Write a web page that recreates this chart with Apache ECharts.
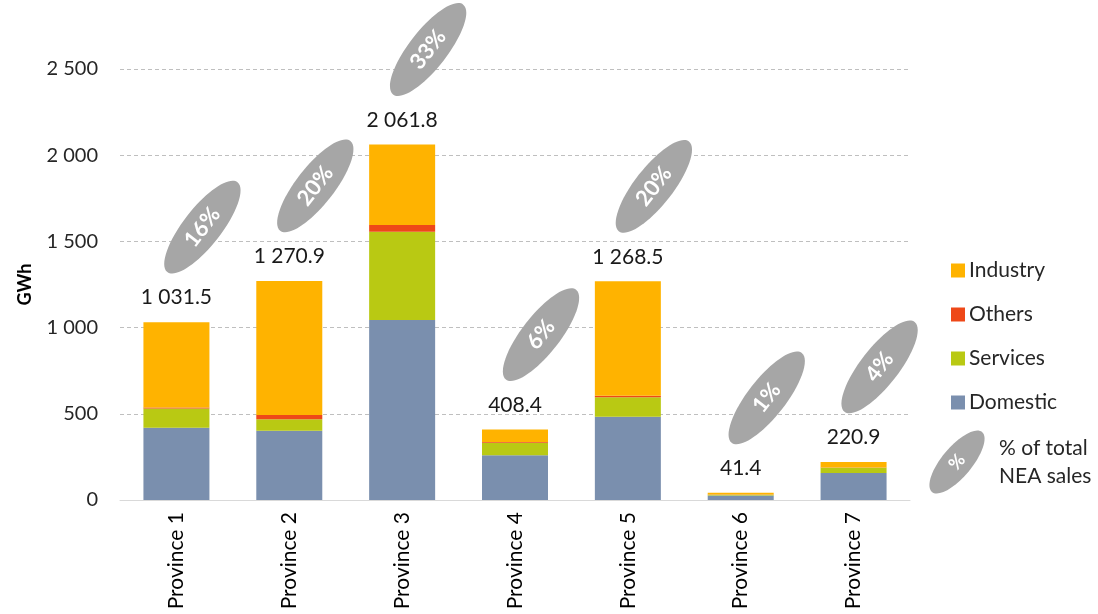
<!DOCTYPE html>
<html>
<head>
<meta charset="utf-8">
<script src="https://cdn.jsdelivr.net/npm/echarts@6/dist/echarts.min.js"></script>
<style>
html,body{margin:0;padding:0;background:#fff;}
#chart{width:1098px;height:614px;}
</style>
</head>
<body>
<div id="chart"></div>
<script>
var categories = ['Province 1','Province 2','Province 3','Province 4','Province 5','Province 6','Province 7'];
var domestic = [419, 402, 1044, 259, 483, 26, 157];
var services = [112, 66, 512, 73, 113, 5, 30];
var others   = [6, 25, 39, 5, 8, 0.5, 1];
var industry = [494.5, 777.9, 466.8, 71.4, 664.5, 9.9, 32.9];
var totals   = [1031.5, 1270.9, 2061.8, 408.4, 1268.5, 41.4, 220.9];
var shares   = ['16%', '20%', '33%', '6%', '20%', '1%', '4%'];
var yTicks   = [0, 500, 1000, 1500, 2000, 2500];

var FONT = 'Lato, "Open Sans", sans-serif';
function fmt(v, dec) {
  var s = dec ? v.toFixed(dec) : String(Math.round(v));
  var parts = s.split('.');
  parts[0] = parts[0].replace(/\B(?=(\d{3})+(?!\d))/g, ' ');
  return parts.join('.');
}

var chart = echarts.init(document.getElementById('chart'), null, {renderer: 'canvas'});
var barW = 66;
function barSeries(name, data, color) {
  return {
    name: name, type: 'bar', stack: 'total', data: data, barWidth: barW,
    itemStyle: {color: color}, emphasis: {disabled: true}
  };
}
var option = {
  animation: false,
  textStyle: {fontFamily: FONT},
  grid: {left: 120, right: 188, top: 69, bottom: 114, containLabel: false},
  legend: {
    orient: 'vertical', left: 946, top: 255,
    data: ['Industry', 'Others', 'Services', 'Domestic'],
    icon: 'rect', itemWidth: 14, itemHeight: 14, itemGap: 23,
    textStyle: {fontSize: 21, color: '#262626', fontFamily: FONT, padding: [0, 0, 0, -1]}
  },
  xAxis: {
    type: 'category', data: categories,
    axisLine: {lineStyle: {color: '#d9d9d9', width: 1}},
    axisTick: {show: false},
    axisLabel: {rotate: 90, fontSize: 21, color: '#000', margin: 12, fontFamily: FONT}
  },
  yAxis: {
    type: 'value', min: 0, max: 2500, interval: 500,
    name: 'GWh', nameLocation: 'middle', nameGap: 86, nameRotate: 90,
    nameTextStyle: {fontSize: 18, fontWeight: 'bold', color: '#000', fontFamily: FONT},
    axisLine: {show: false}, axisTick: {show: false},
    axisLabel: {fontSize: 20, color: '#262626', margin: 22, fontFamily: FONT,
      formatter: function (v) { return yTicks.indexOf(v) >= 0 ? fmt(v) : ''; }},
    splitLine: {lineStyle: {color: '#bfbfbf', type: [4, 3], width: 1}}
  },
  series: [
    barSeries('Domestic', domestic, '#7a8fae'),
    barSeries('Services', services, '#b9c913'),
    barSeries('Others', others, '#ee4818'),
    Object.assign(barSeries('Industry', industry, '#ffb300'), {
      label: {show: true, position: 'top', distance: 14, fontSize: 21, color: '#1a1a1a',
        fontFamily: FONT,
        formatter: function (p) { return fmt(totals[p.dataIndex], 1); }}
    }),
    {
      type: 'custom', name: 'share', silent: true, z: 5,
      data: categories.map(function (c, i) { return [i, totals[i]]; }),
      renderItem: function (params, api) {
        var pt = api.coord([api.value(0), api.value(1)]);
        return {
          type: 'group', x: pt[0] + 26, y: pt[1] - 95, rotation: 52 * Math.PI / 180,
          children: [
            {type: 'ellipse', shape: {cx: 0, cy: 0, rx: 57, ry: 19}, style: {fill: '#a6a6a6'}},
            {type: 'text', style: {text: shares[params.dataIndex], x: 0, y: 0, align: 'center',
              verticalAlign: 'middle', fill: '#fff', fontSize: 22, fontWeight: 'bold', fontFamily: FONT}}
          ]
        };
      }
    }
  ],
  graphic: [
    {type: 'group', x: 957, y: 462, rotation: 50 * Math.PI / 180, children: [
      {type: 'ellipse', shape: {cx: 0, cy: 0, rx: 39, ry: 15}, style: {fill: '#a6a6a6'}},
      {type: 'text', style: {text: '%', x: 0, y: 0, align: 'center', verticalAlign: 'middle',
        fill: '#fff', fontSize: 18, fontWeight: 'bold', fontFamily: FONT}}
    ]},
    {type: 'text', left: 999, top: 434, style: {text: '% of total\nNEA sales', fontSize: 21,
      lineHeight: 28, fill: '#262626', fontFamily: FONT}}
  ]
};
chart.setOption(option);
</script>
</body>
</html>
